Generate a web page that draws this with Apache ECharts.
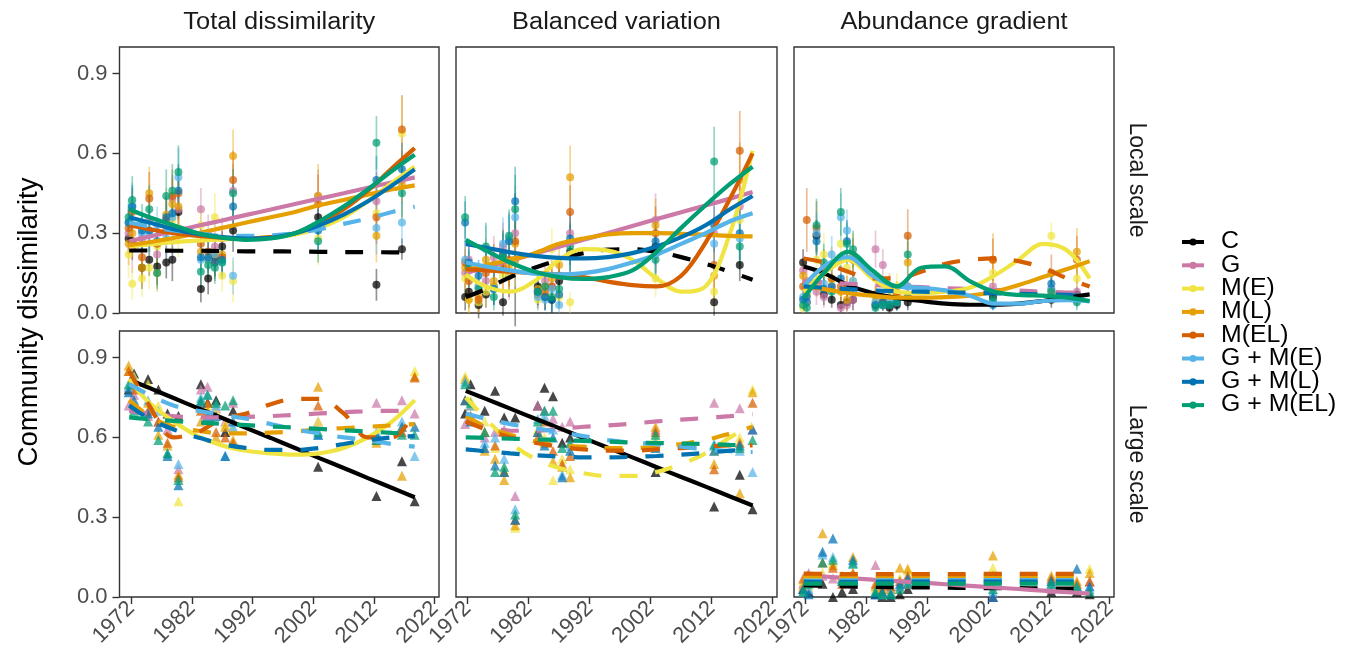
<!DOCTYPE html>
<html><head><meta charset="utf-8">
<script src="https://cdn.jsdelivr.net/npm/echarts@6/dist/echarts.min.js"></script>
<style>html,body{margin:0;padding:0;background:#fff}#c{width:1352px;height:652px}</style>
</head><body><div id="c"></div>
<script>
// ---------- DATA ----------
const SERIES = ['C','G','M(E)','M(L)','M(EL)','G + M(E)','G + M(L)','G + M(EL)'];
const COL_TITLES = ['Total dissimilarity','Balanced variation','Abundance gradient'];
const ROW_TITLES = ['Local scale','Large scale'];
const Y_TITLE = 'Community dissimilarity';
const X_TICKS = [1972,1982,1992,2002,2012,2022];
const Y_TICKS = [0,0.3,0.6,0.9];
const LINE_YEARS = [1971.7,1975,1979,1983,1987,1991,1995,1999,2003,2007,2011,2015,2018.7];
const LOCAL_YEARS = [1971.6,1972.2,1973.8,1975,1976.3,1977.8,1978.8,1979.8,1983.5,1984.7,1985.8,1987,1988.8,2002.8,2012.4,2016.6];
const LARGE_YEARS = [1971.6,1972.5,1974.8,1976.5,1978,1979.8,1983.5,1984.6,1986,1987.5,1988.8,2002.8,2012.4,2016.6,2018.7];

// Total dissimilarity, local scale
const totalLocalPts = [
 [0.28,0.27,0.17,0.2,0.175,0.19,0.2,0.38,0.09,0.13,0.21,0.25,0.31,0.36,0.106,0.24],
 [0.3,0.25,0.28,0.35,0.22,0.31,0.43,0.39,0.39,0.3,0.25,0.28,0.46,0.44,0.42,0.5],
 [0.22,0.11,0.13,0.17,0.25,0.33,0.35,0.32,0.33,0.2,0.36,0.14,0.12,0.28,0.375,0.675],
 [0.26,0.3,0.17,0.45,0.15,0.37,0.41,0.4,0.23,0.2,0.22,0.22,0.59,0.44,0.29,0.48],
 [0.32,0.38,0.21,0.43,0.26,0.35,0.44,0.45,0.26,0.23,0.19,0.21,0.5,0.41,0.36,0.69],
 [0.34,0.4,0.3,0.3,0.33,0.28,0.36,0.51,0.2,0.2,0.22,0.19,0.14,0.32,0.32,0.34],
 [0.34,0.4,0.31,0.31,0.27,0.36,0.375,0.46,0.21,0.21,0.19,0.2,0.4,0.31,0.5,0.54],
 [0.36,0.425,0.33,0.39,0.15,0.44,0.46,0.53,0.155,0.18,0.17,0.19,0.45,0.27,0.64,0.45]];
const totalLocalErr = [
 [0.06,0.07,0.08,0.06,0.07,0.06,0.08,0.07,0.05,0.06,0.07,0.06,0.08,0.07,0.06,0.04],
 [0.08,0.1,0.07,0.09,0.08,0.1,0.09,0.12,0.08,0.07,0.09,0.08,0.1,0.1,0.11,0.09],
 [0.09,0.06,0.07,0.08,0.1,0.09,0.1,0.11,0.07,0.08,0.09,0.06,0.08,0.1,0.1,0.14],
 [0.08,0.09,0.07,0.1,0.07,0.1,0.1,0.1,0.07,0.08,0.08,0.07,0.1,0.12,0.1,0.13],
 [0.07,0.09,0.08,0.1,0.08,0.09,0.1,0.1,0.06,0.07,0.07,0.07,0.11,0.11,0.1,0.13],
 [0.07,0.09,0.08,0.09,0.07,0.08,0.09,0.11,0.06,0.07,0.06,0.06,0.07,0.08,0.1,0.08],
 [0.06,0.08,0.07,0.08,0.07,0.08,0.08,0.1,0.06,0.06,0.06,0.06,0.08,0.08,0.09,0.1],
 [0.07,0.09,0.08,0.09,0.06,0.1,0.1,0.1,0.06,0.06,0.06,0.06,0.09,0.08,0.1,0.09]];
const totalLocalLines = [
 [0.235,0.235,0.234,0.234,0.233,0.232,0.232,0.231,0.23,0.229,0.229,0.228,0.228],
 [0.27,0.287,0.307,0.328,0.348,0.369,0.389,0.41,0.43,0.45,0.471,0.491,0.51],
 [0.25,0.258,0.266,0.272,0.277,0.28,0.285,0.295,0.32,0.36,0.42,0.49,0.55],
 [0.255,0.266,0.282,0.3,0.32,0.34,0.36,0.38,0.405,0.425,0.445,0.465,0.48],
 [0.33,0.315,0.3,0.29,0.283,0.28,0.285,0.3,0.34,0.39,0.46,0.545,0.62],
 [0.34,0.325,0.31,0.3,0.29,0.29,0.292,0.3,0.315,0.335,0.355,0.38,0.40],
 [0.36,0.34,0.315,0.297,0.285,0.28,0.283,0.3,0.33,0.37,0.42,0.48,0.54],
 [0.39,0.36,0.33,0.3,0.283,0.275,0.28,0.3,0.345,0.4,0.465,0.535,0.595]];

// Balanced variation, local scale
const balancedLocalPts = [
 [0.06,0.08,0.03,0.07,0.1,0.04,0.14,0.2,0.1,0.06,0.05,0.12,0.23,0.25,0.04,0.18],
 [0.15,0.2,0.1,0.12,0.21,0.25,0.15,0.3,0.08,0.12,0.1,0.14,0.3,0.35,0.3,0.4],
 [0.13,0.05,0.04,0.08,0.1,0.14,0.15,0.2,0.05,0.07,0.24,0.06,0.04,0.13,0.08,0.35],
 [0.17,0.05,0.06,0.2,0.12,0.22,0.18,0.26,0.09,0.1,0.13,0.18,0.51,0.33,0.14,0.5],
 [0.19,0.12,0.05,0.15,0.18,0.17,0.2,0.27,0.07,0.08,0.1,0.14,0.38,0.3,0.18,0.61],
 [0.2,0.16,0.1,0.24,0.09,0.26,0.28,0.36,0.06,0.05,0.09,0.03,0.22,0.22,0.26,0.28],
 [0.34,0.19,0.14,0.17,0.09,0.22,0.27,0.42,0.08,0.06,0.05,0.07,0.28,0.27,0.33,0.3],
 [0.36,0.17,0.09,0.25,0.06,0.21,0.29,0.39,0.08,0.1,0.06,0.09,0.25,0.2,0.57,0.25]];
const balancedLocalErr = [
 [0.05,0.06,0.05,0.05,0.07,0.05,0.08,0.25,0.06,0.05,0.05,0.07,0.1,0.1,0.05,0.06],
 [0.07,0.08,0.06,0.07,0.08,0.09,0.1,0.15,0.06,0.06,0.06,0.07,0.1,0.1,0.1,0.12],
 [0.06,0.05,0.04,0.06,0.06,0.07,0.08,0.1,0.04,0.05,0.08,0.05,0.04,0.07,0.06,0.12],
 [0.07,0.05,0.05,0.08,0.07,0.1,0.09,0.12,0.06,0.06,0.07,0.08,0.12,0.1,0.09,0.14],
 [0.07,0.07,0.05,0.08,0.08,0.09,0.1,0.12,0.05,0.06,0.07,0.07,0.1,0.1,0.09,0.15],
 [0.07,0.07,0.06,0.09,0.06,0.1,0.1,0.12,0.05,0.04,0.06,0.03,0.08,0.09,0.1,0.1],
 [0.08,0.07,0.06,0.07,0.06,0.09,0.1,0.13,0.05,0.05,0.05,0.05,0.1,0.09,0.1,0.1],
 [0.08,0.07,0.06,0.09,0.05,0.09,0.1,0.13,0.05,0.06,0.05,0.06,0.09,0.08,0.13,0.09]];
const balancedLocalLines = [
 [0.06,0.09,0.135,0.17,0.2,0.225,0.238,0.24,0.23,0.21,0.185,0.155,0.125],
 [0.15,0.171,0.197,0.223,0.249,0.275,0.301,0.327,0.353,0.379,0.404,0.43,0.455],
 [0.145,0.1,0.08,0.12,0.2,0.24,0.235,0.2,0.13,0.08,0.1,0.3,0.61],
 [0.16,0.18,0.2,0.225,0.26,0.28,0.295,0.3,0.3,0.298,0.294,0.29,0.288],
 [0.165,0.16,0.155,0.15,0.145,0.135,0.118,0.105,0.1,0.14,0.265,0.43,0.6],
 [0.19,0.175,0.16,0.148,0.145,0.15,0.165,0.19,0.22,0.26,0.3,0.345,0.375],
 [0.26,0.245,0.228,0.215,0.207,0.205,0.21,0.225,0.25,0.285,0.33,0.39,0.44],
 [0.275,0.235,0.19,0.155,0.135,0.128,0.135,0.16,0.23,0.32,0.405,0.485,0.55]];

// Abundance gradient, local scale
const abundanceLocalPts = [
 [0.19,0.04,0.29,0.07,0.05,0.03,0.04,0.05,0.03,0.03,0.02,0.03,0.04,0.06,0.05,0.07],
 [0.16,0.12,0.08,0.06,0.1,0.02,0.03,0.05,0.24,0.18,0.05,0.04,0.1,0.1,0.09,0.08],
 [0.02,0.1,0.2,0.22,0.12,0.26,0.17,0.12,0.04,0.04,0.06,0.1,0.07,0.15,0.29,0.13],
 [0.14,0.07,0.11,0.15,0.18,0.08,0.05,0.22,0.06,0.05,0.1,0.08,0.19,0.2,0.08,0.23],
 [0.1,0.35,0.32,0.17,0.13,0.1,0.09,0.2,0.07,0.04,0.09,0.07,0.29,0.2,0.15,0.2],
 [0.06,0.04,0.3,0.11,0.22,0.36,0.31,0.12,0.04,0.03,0.05,0.04,0.1,0.04,0.09,0.05],
 [0.05,0.06,0.27,0.09,0.1,0.13,0.27,0.1,0.03,0.04,0.03,0.04,0.06,0.03,0.11,0.06],
 [0.03,0.02,0.33,0.19,0.08,0.38,0.26,0.24,0.02,0.03,0.03,0.04,0.22,0.05,0.08,0.04]];
const abundanceLocalErr = [
 [0.05,0.03,0.06,0.04,0.03,0.03,0.03,0.04,0.02,0.02,0.02,0.02,0.03,0.04,0.03,0.03],
 [0.06,0.05,0.05,0.04,0.05,0.02,0.03,0.04,0.07,0.06,0.03,0.03,0.05,0.06,0.05,0.05],
 [0.02,0.05,0.07,0.08,0.06,0.09,0.07,0.06,0.03,0.03,0.04,0.05,0.04,0.07,0.05,0.06],
 [0.05,0.04,0.05,0.06,0.07,0.05,0.04,0.08,0.04,0.03,0.05,0.04,0.08,0.1,0.05,0.09],
 [0.05,0.12,0.1,0.07,0.06,0.05,0.05,0.08,0.04,0.03,0.05,0.04,0.1,0.08,0.07,0.09],
 [0.03,0.03,0.08,0.05,0.07,0.09,0.08,0.05,0.03,0.02,0.03,0.03,0.05,0.03,0.05,0.03],
 [0.03,0.03,0.08,0.04,0.05,0.05,0.08,0.05,0.02,0.03,0.02,0.03,0.04,0.02,0.05,0.03],
 [0.02,0.02,0.1,0.07,0.04,0.09,0.08,0.07,0.02,0.02,0.02,0.03,0.07,0.03,0.05,0.03]];
const abundanceLocalLines = [
 [0.175,0.15,0.105,0.075,0.057,0.045,0.035,0.031,0.031,0.035,0.045,0.058,0.07],
 [0.12,0.115,0.11,0.105,0.1,0.097,0.093,0.09,0.087,0.084,0.08,0.077,0.075],
 [0.08,0.15,0.2,0.13,0.08,0.075,0.08,0.095,0.14,0.2,0.26,0.235,0.13],
 [0.1,0.09,0.075,0.065,0.058,0.058,0.06,0.065,0.08,0.105,0.135,0.165,0.195],
 [0.205,0.19,0.155,0.13,0.13,0.155,0.185,0.2,0.205,0.195,0.17,0.13,0.1],
 [0.1,0.175,0.21,0.14,0.1,0.095,0.085,0.065,0.035,0.035,0.045,0.048,0.044],
 [0.1,0.095,0.09,0.085,0.082,0.08,0.078,0.076,0.074,0.072,0.07,0.068,0.066],
 [0.056,0.15,0.23,0.16,0.1,0.17,0.175,0.12,0.08,0.068,0.065,0.058,0.045]];

// Total dissimilarity, large scale
const totalLargePts = [
 [0.78,0.84,0.82,0.78,0.69,0.68,0.8,0.73,0.74,0.62,0.7,0.49,0.38,0.51,0.36],
 [0.72,0.76,0.68,0.66,0.63,0.48,0.78,0.79,0.71,0.66,0.73,0.66,0.73,0.74,0.69],
 [0.85,0.83,0.8,0.72,0.66,0.36,0.71,0.72,0.7,0.65,0.63,0.66,0.6,0.64,0.85],
 [0.87,0.79,0.73,0.61,0.57,0.46,0.66,0.7,0.6,0.64,0.59,0.79,0.58,0.456,0.83],
 [0.85,0.78,0.7,0.66,0.58,0.45,0.7,0.73,0.62,0.6,0.58,0.72,0.59,0.62,0.825],
 [0.79,0.82,0.74,0.7,0.54,0.5,0.75,0.76,0.72,0.53,0.64,0.61,0.62,0.66,0.53],
 [0.77,0.74,0.69,0.64,0.53,0.42,0.73,0.68,0.68,0.53,0.66,0.61,0.61,0.64,0.64],
 [0.8,0.7,0.66,0.59,0.54,0.44,0.74,0.76,0.73,0.72,0.74,0.62,0.59,0.61,0.61]];
const totalLargeLines = [
 [0.817,0.786,0.748,0.71,0.673,0.635,0.598,0.56,0.522,0.485,0.447,0.41,0.375],
 [0.7,0.69,0.68,0.675,0.675,0.677,0.68,0.685,0.69,0.695,0.698,0.70,0.70],
 [0.82,0.73,0.66,0.605,0.57,0.55,0.54,0.535,0.54,0.56,0.6,0.66,0.74],
 [0.74,0.68,0.64,0.625,0.615,0.615,0.618,0.622,0.63,0.635,0.64,0.645,0.65],
 [0.85,0.72,0.6,0.62,0.67,0.69,0.725,0.745,0.745,0.69,0.6,0.6,0.7],
 [0.8,0.76,0.72,0.7,0.685,0.67,0.65,0.63,0.615,0.6,0.59,0.575,0.565],
 [0.72,0.67,0.63,0.6,0.575,0.56,0.553,0.553,0.56,0.575,0.59,0.6,0.605],
 [0.675,0.668,0.662,0.656,0.651,0.646,0.641,0.637,0.632,0.627,0.622,0.617,0.613]];

// Balanced variation, large scale
const balancedLargePts = [
 [0.69,0.8,0.7,0.775,0.675,0.675,0.72,0.787,0.755,0.58,0.6,0.47,0.34,0.46,0.33],
 [0.65,0.68,0.6,0.62,0.63,0.38,0.72,0.7,0.67,0.64,0.66,0.63,0.73,0.71,0.63],
 [0.83,0.74,0.66,0.56,0.48,0.26,0.63,0.6,0.44,0.52,0.48,0.6,0.55,0.6,0.78],
 [0.82,0.72,0.55,0.52,0.44,0.27,0.62,0.58,0.51,0.49,0.45,0.64,0.5,0.39,0.77],
 [0.74,0.68,0.62,0.57,0.47,0.29,0.6,0.66,0.55,0.5,0.53,0.62,0.48,0.58,0.73],
 [0.81,0.72,0.58,0.6,0.52,0.33,0.67,0.68,0.63,0.46,0.57,0.58,0.575,0.55,0.47],
 [0.74,0.66,0.56,0.494,0.47,0.29,0.62,0.57,0.6,0.45,0.55,0.56,0.55,0.57,0.63],
 [0.8,0.73,0.62,0.47,0.49,0.31,0.66,0.7,0.7,0.56,0.58,0.61,0.57,0.56,0.59]];
const balancedLargeLines = [
 [0.775,0.745,0.708,0.671,0.635,0.598,0.561,0.525,0.488,0.451,0.415,0.378,0.344],
 [0.66,0.64,0.625,0.625,0.632,0.64,0.645,0.652,0.66,0.667,0.673,0.68,0.687],
 [0.75,0.67,0.58,0.52,0.485,0.465,0.455,0.455,0.47,0.5,0.54,0.6,0.65],
 [0.68,0.64,0.61,0.585,0.57,0.565,0.56,0.56,0.565,0.575,0.59,0.615,0.64],
 [0.66,0.63,0.6,0.58,0.565,0.555,0.55,0.55,0.555,0.56,0.565,0.57,0.57],
 [0.69,0.67,0.65,0.635,0.62,0.605,0.59,0.58,0.575,0.565,0.555,0.548,0.545],
 [0.555,0.548,0.54,0.533,0.528,0.525,0.525,0.527,0.53,0.535,0.542,0.55,0.556],
 [0.6,0.598,0.595,0.593,0.59,0.587,0.584,0.581,0.579,0.577,0.575,0.572,0.57]];

// Abundance gradient, large scale
const abundanceLargePts = [
 [0.03,0.02,0.05,0.0,0.02,0.03,0.01,0.0,0.0,0.01,0.03,0.0,0.02,0.02,0.01],
 [0.05,0.09,0.08,0.07,0.06,0.05,0.12,0.04,0.03,0.04,0.05,0.0,0.03,0.04,0.056],
 [0.06,0.04,0.09,0.13,0.07,0.09,0.03,0.02,0.02,0.07,0.1,0.11,0.06,0.05,0.106],
 [0.04,0.06,0.24,0.12,0.08,0.15,0.04,0.03,0.03,0.11,0.106,0.156,0.08,0.06,0.09],
 [0.07,0.08,0.13,0.11,0.05,0.09,0.05,0.02,0.04,0.06,0.08,0.08,0.07,0.05,0.06],
 [0.02,0.03,0.16,0.15,0.06,0.13,0.02,0.01,0.02,0.04,0.06,0.02,0.05,0.04,0.03],
 [0.03,0.01,0.17,0.22,0.07,0.14,0.01,0.02,0.01,0.05,0.07,0.0,0.06,0.106,0.04],
 [0.02,0.05,0.13,0.14,0.06,0.125,0.02,0.01,0.01,0.03,0.05,0.03,0.05,0.04,0.02]];
const abundanceLargeLines = [
 [0.045,0.042,0.04,0.038,0.037,0.036,0.035,0.034,0.033,0.033,0.032,0.032,0.031],
 [0.082,0.077,0.071,0.065,0.06,0.054,0.048,0.042,0.036,0.03,0.024,0.018,0.013],
 [0.07,0.07,0.07,0.07,0.069,0.069,0.069,0.07,0.07,0.071,0.071,0.071,0.072],
 [0.078,0.077,0.077,0.077,0.077,0.077,0.077,0.078,0.078,0.078,0.079,0.079,0.08],
 [0.088,0.087,0.086,0.086,0.086,0.086,0.086,0.086,0.087,0.087,0.087,0.087,0.088],
 [0.062,0.062,0.063,0.063,0.063,0.063,0.064,0.064,0.064,0.064,0.064,0.064,0.064],
 [0.058,0.057,0.057,0.057,0.058,0.058,0.058,0.058,0.058,0.058,0.058,0.058,0.058],
 [0.05,0.05,0.05,0.05,0.05,0.05,0.05,0.05,0.05,0.05,0.05,0.05,0.05]];

// ---------- STYLES ----------
const COLORS = ['#000000','#CC79A7','#F0E442','#E69F00','#D55E00','#56B4E9','#0072B2','#009E73'];
// 1 = dashed trend line, 0 = solid
const DASH = [
 [1,0,0,0,0,1,0,0],
 [1,0,0,0,0,0,0,0],
 [0,1,0,0,1,0,1,0],
 [0,1,0,1,1,1,1,1],
 [0,1,1,1,1,1,1,1],
 [1,0,1,1,1,1,1,1]];
const FONT = '"Liberation Sans", Arial, Helvetica, sans-serif';
const GRID_POS = [
 [119.5,47,319.5,266],[456,47,321,266],[794,47,320,266],
 [119.5,331,319.5,266],[456,331,321,266],[794,331,320,266]];

const panels = [
 {pts: totalLocalPts, err: totalLocalErr, lines: totalLocalLines, years: LOCAL_YEARS},
 {pts: balancedLocalPts, err: balancedLocalErr, lines: balancedLocalLines, years: LOCAL_YEARS},
 {pts: abundanceLocalPts, err: abundanceLocalErr, lines: abundanceLocalLines, years: LOCAL_YEARS},
 {pts: totalLargePts, err: null, lines: totalLargeLines, years: LARGE_YEARS},
 {pts: balancedLargePts, err: null, lines: balancedLargeLines, years: LARGE_YEARS},
 {pts: abundanceLargePts, err: null, lines: abundanceLargeLines, years: LARGE_YEARS}];

const grid = [], xAxis = [], yAxis = [], pointSeries = [], lineSeries = [];
panels.forEach((p, pi) => {
  const row = Math.floor(pi / 3), col = pi % 3;
  const g = GRID_POS[pi];
  grid.push({left: g[0], top: g[1], width: g[2], height: g[3], show: true,
    borderColor: '#333', borderWidth: 1.4, backgroundColor: 'transparent', outerBoundsMode: 'none'});
  xAxis.push({gridIndex: pi, type: 'value', min: 1970.1, max: 2022.7,
    axisLine: {show: false}, splitLine: {show: false},
    axisTick: {show: row === 1, customValues: X_TICKS, length: 7, lineStyle: {color: '#333', width: 1.4}},
    axisLabel: {show: row === 1, customValues: X_TICKS, rotate: 45, fontSize: 22, fontFamily: FONT,
      color: '#4d4d4d', margin: 8, formatter: v => String(Math.round(v))}});
  yAxis.push({gridIndex: pi, type: 'value', min: 0, max: 1,
    axisLine: {show: false}, splitLine: {show: false},
    axisTick: {show: col === 0, customValues: Y_TICKS, length: 7, lineStyle: {color: '#333', width: 1.4}},
    axisLabel: {show: col === 0, customValues: Y_TICKS, fontSize: 22, fontFamily: FONT,
      color: '#4d4d4d', margin: 12, formatter: v => v.toFixed(1)}});
  SERIES.forEach((name, si) => {
    const color = COLORS[si];
    const vals = p.pts[si];
    if (p.err) {
      const e = p.err[si];
      pointSeries.push({type: 'custom', name, xAxisIndex: pi, yAxisIndex: pi, silent: true,
        data: p.years.map((yr, k) => [yr, vals[k] - e[k], vals[k] + e[k]]),
        encode: {x: 0, y: [1, 2]},
        renderItem: (params, api) => {
          const a = api.coord([api.value(0), api.value(1)]);
          const b = api.coord([api.value(0), api.value(2)]);
          return {type: 'line', shape: {x1: a[0], y1: a[1], x2: b[0], y2: b[1]},
            style: {stroke: color, lineWidth: 1.7, opacity: 0.42}};
        }});
    }
    pointSeries.push({type: 'scatter', name, xAxisIndex: pi, yAxisIndex: pi, silent: true,
      symbol: row === 0 ? 'circle' : 'triangle', symbolSize: row === 0 ? 8 : 10,
      itemStyle: {color, opacity: 0.72},
      data: p.years.map((yr, k) => [yr, vals[k]])});
    const dashed = DASH[pi][si] === 1;
    lineSeries.push({type: 'line', name, xAxisIndex: pi, yAxisIndex: pi, silent: true,
      showSymbol: false, smooth: 0.35,
      lineStyle: {color, width: 4.2, type: dashed ? [18, 18] : 'solid', cap: 'butt'},
      data: LINE_YEARS.map((yr, k) => [yr, p.lines[si][k]])});
  });
});

const graphic = [];
const colCenters = GRID_POS.slice(0, 3).map(g => g[0] + g[2] / 2);
COL_TITLES.forEach((t, i) => graphic.push({type: 'text', x: colCenters[i], y: 23, scaleX: 1.08,
  style: {text: t, font: '23.5px ' + FONT, fill: '#1a1a1a', align: 'center', verticalAlign: 'middle'}}));
ROW_TITLES.forEach((t, i) => graphic.push({type: 'text', x: 1136, y: GRID_POS[i * 3][1] + 133,
  rotation: -Math.PI / 2,
  style: {text: t, font: '23px ' + FONT, fill: '#1a1a1a', align: 'center', verticalAlign: 'middle'}}));
graphic.push({type: 'text', x: 29, y: 322, rotation: Math.PI / 2,
  style: {text: Y_TITLE, font: '27.5px ' + FONT, fill: '#000', align: 'center', verticalAlign: 'middle'}});
SERIES.forEach((name, i) => {
  const y = 242 + i * 23.3;
  graphic.push({type: 'line', shape: {x1: 1182, y1: y, x2: 1204, y2: y}, style: {stroke: COLORS[i], lineWidth: 4}});
  graphic.push({type: 'circle', shape: {cx: 1193, cy: y, r: 3.6}, style: {fill: COLORS[i]}});
  graphic.push({type: 'text', x: 1221, y: y, scaleX: 1.08,
    style: {text: name, font: '23px ' + FONT, fill: '#000', verticalAlign: 'middle'}});
});

const chart = echarts.init(document.getElementById('c'));
chart.setOption({animation: false, backgroundColor: '#fff', grid, xAxis, yAxis,
  series: pointSeries.concat(lineSeries), graphic});
</script></body></html>
